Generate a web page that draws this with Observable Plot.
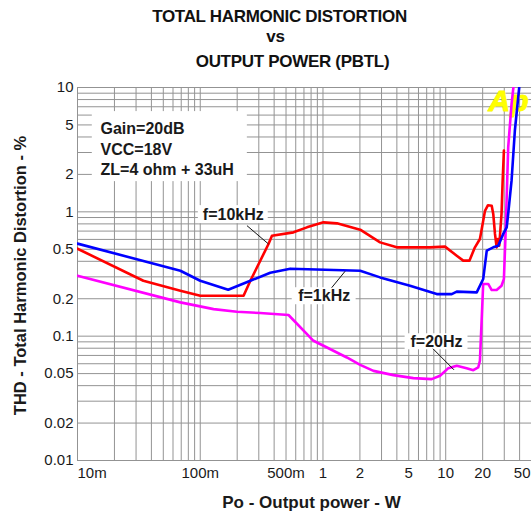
<!DOCTYPE html>
<html><head><meta charset="utf-8">
<script src="https://cdn.jsdelivr.net/npm/d3@7"></script>
<script src="https://cdn.jsdelivr.net/npm/@observablehq/plot@0.6"></script>
<style>
body{margin:0;background:#fff;font-family:Arial,"Liberation Sans",sans-serif;}
#wrap{position:relative;width:531px;height:513px;overflow:hidden;background:#fff;}
#title{position:relative;height:75px;}
.t{position:absolute;left:0;width:531px;text-align:center;font-weight:bold;font-size:17px;line-height:20px;white-space:pre;letter-spacing:-0.3px;color:#111;}
</style></head><body>
<div id="wrap"><div id="title"></div><div id="chart"></div></div>
<script>
// ---- text ----
const titleLines = ["TOTAL HARMONIC DISTORTION", "vs", "OUTPUT POWER (PBTL)"];
const xLabel = "Po - Output power - W";
const yLabel = "THD - Total Harmonic Distortion - %";
const legendLines = ["Gain=20dB", "VCC=18V", "ZL=4 ohm + 33uH"];
const logoText = "Ap";

// ---- ticks ----
const xTicks = [0.01, 0.1, 0.5, 1, 2, 5, 10, 20, 50];
const xTickLabels = ["10m", "100m", "500m", "1", "2", "5", "10", "20", "50"];
const yTicks = [0.01, 0.02, 0.05, 0.1, 0.2, 0.5, 1, 2, 5, 10];
const yTickLabels = ["0.01", "0.02", "0.05", "0.1", "0.2", "0.5", "1", "2", "5", "10"];
const gridMantissas = [1, 2, 3, 4, 5, 6, 7, 8, 9];
const xDecades = [0.01, 0.1, 1, 10];
const yDecades = [0.01, 0.1, 1];

// ---- series: f=10kHz (red) ----
const redP = [0.01, 0.0344, 0.0689, 0.1, 0.2255, 0.256, 0.36, 0.384, 0.575, 0.74, 1.01, 1.3, 2.01, 2.92, 3.99, 7.45, 9.87, 12.3, 13.9, 15.6, 17.3, 19.0, 20.9, 22.1, 23.7, 24.4, 25.2, 26.0, 26.6, 27.3, 28.5, 29.1, 29.8];
const redT = [0.505, 0.279, 0.232, 0.2115, 0.2115, 0.279, 0.551, 0.643, 0.684, 0.75, 0.823, 0.808, 0.719, 0.568, 0.518, 0.518, 0.525, 0.444, 0.405, 0.405, 0.518, 0.605, 1.02, 1.13, 1.12, 0.962, 0.664, 0.518, 0.605, 0.534, 0.962, 1.78, 3.11];
// ---- series: f=1kHz (blue) ----
const blueP = [0.01, 0.0689, 0.1, 0.169, 0.256, 0.372, 0.541, 2.01, 2.92, 5.12, 8.45, 11.2, 12.3, 17.9, 20.2, 21.6, 24.4, 26.8, 29.4, 31.4, 32.3, 34.4, 36.6, 39.7];
const blueT = [0.555, 0.336, 0.279, 0.236, 0.279, 0.324, 0.349, 0.336, 0.297, 0.2545, 0.218, 0.218, 0.228, 0.225, 0.288, 0.487, 0.518, 0.534, 0.664, 0.75, 0.967, 1.78, 4.51, 10];
// ---- series: f=20Hz (magenta) ----
const magP = [0.01, 0.0689, 0.1285, 0.199, 0.308, 0.524, 0.837, 1.01, 1.565, 2.01, 2.58, 3.75, 5.45, 7.69, 8.99, 10.5, 12.3, 14.8, 16.8, 18.4, 19.0, 20.2, 22.2, 23.7, 26.0, 28.5, 29.8, 30.8, 32.3, 34.4, 35.6];
const magT = [0.306, 0.187, 0.165, 0.157, 0.1535, 0.148, 0.0918, 0.0837, 0.0674, 0.0588, 0.0526, 0.0486, 0.046, 0.0451, 0.048, 0.0553, 0.0578, 0.0553, 0.0533, 0.056, 0.0634, 0.263, 0.263, 0.235, 0.235, 0.2545, 0.288, 0.706, 3.31, 7.39, 10];

// ---- annotations (data coordinates) ----
const curveLabels = ["f=10kHz", "f=1kHz", "f=20Hz"];
const labelX = [0.186, 1.023, 8.42];
const labelY = [0.95, 0.2096, 0.0901];
const boxX1 = [0.0965, 0.5615, 4.67];
const boxX2 = [0.358, 1.863, 15.19];
const boxY1 = [0.804, 0.179, 0.0777];
const boxY2 = [1.122, 0.2453, 0.1045];
const leadX1 = [0.2403, 1.177, 7.88];
const leadY1 = [0.774, 0.2453, 0.0792];
const leadX2 = [0.36, 1.516, 11.68];
const leadY2 = [0.551, 0.333, 0.0536];
const legendBox = {x1: 0.0132, x2: 0.242, y1: 1.75, y2: 6.4};

// ---- title ----
const titleDiv = document.getElementById("title");
const titleLeft = [14, 10, 27];
const titleTop = [6.8, 27.1, 52.1];
titleLines.forEach((s, i) => {
  const d = document.createElement("div");
  d.className = "t";
  d.style.left = titleLeft[i] + "px";
  d.style.top = titleTop[i] + "px";
  d.textContent = s;
  titleDiv.appendChild(d);
});

const toRows = (P, T) => P.map((p, i) => ({p, t: T[i]}));
const xGrid = xDecades.flatMap(d => gridMantissas.map(m => +(m * d).toPrecision(3))).filter(v => v < 50);
const yGrid = yDecades.flatMap(d => gridMantissas.map(m => +(m * d).toPrecision(3))).concat([10]);
const labels = curveLabels.map((s, i) => ({s, x: labelX[i], y: labelY[i], x1: boxX1[i], x2: boxX2[i], y1: boxY1[i], y2: boxY2[i], lx1: leadX1[i], ly1: leadY1[i], lx2: leadX2[i], ly2: leadY2[i]}));
const xt = xTicks.map((v, i) => ({v, s: xTickLabels[i]}));
const yt = yTicks.map((v, i) => ({v, s: yTickLabels[i]}));
const gridColor = "#939393";
const ink = "#1a1a1a";

const chart = Plot.plot({
  width: 531,
  height: 438,
  marginLeft: 77,
  marginRight: 0,
  marginTop: 12,
  marginBottom: 53,
  style: {fontFamily: "Arial, 'Liberation Sans', sans-serif", fontSize: "15px", background: "white", color: ink},
  x: {type: "log", domain: [0.01, 50], axis: null},
  y: {type: "log", domain: [0.01, 10], axis: null},
  marks: [
    Plot.ruleX(xGrid, {stroke: gridColor, strokeWidth: 1}),
    Plot.ruleY(yGrid, {stroke: gridColor, strokeWidth: 1}),
    Plot.rect([legendBox], {x1: "x1", x2: "x2", y1: "y1", y2: "y2", fill: "white"}),
    Plot.rect(labels, {x1: "x1", x2: "x2", y1: "y1", y2: "y2", fill: "white"}),
    Plot.text([logoText], {text: d => d, frameAnchor: "top-right", textAnchor: "end", lineAnchor: "top", dx: -3, dy: 2, fontSize: 30, fontWeight: "bold", fontStyle: "italic", fill: "#ffff00", stroke: "#f5f500", strokeWidth: 1}),
    Plot.line(toRows(redP, redT), {x: "p", y: "t", stroke: "#ff0000", strokeWidth: 2.6, clip: true}),
    Plot.line(toRows(magP, magT), {x: "p", y: "t", stroke: "#ff00ff", strokeWidth: 2.6, clip: true}),
    Plot.line(toRows(blueP, blueT), {x: "p", y: "t", stroke: "#0000ff", strokeWidth: 2.6, clip: true}),
    Plot.link(labels, {x1: "lx1", y1: "ly1", x2: "lx2", y2: "ly2", stroke: "#111", strokeWidth: 1}),
    Plot.text(labels, {x: "x", y: "y", text: "s", fontSize: 16, fontWeight: "bold", fill: ink, textAnchor: "middle", lineAnchor: "middle"}),
    Plot.text([legendLines.join("\n")], {text: d => d, frameAnchor: "top-left", textAnchor: "start", lineAnchor: "top", dx: 23, dy: 32.3, lineHeight: 1.28, fontSize: 16, fontWeight: "bold", fill: ink}),
    Plot.text(yt, {y: "v", text: "s", frameAnchor: "left", textAnchor: "end", lineAnchor: "middle", dx: -4, fontSize: 15, fill: ink}),
    Plot.text(xt.slice(0, 1), {x: "v", text: "s", frameAnchor: "bottom", textAnchor: "start", lineAnchor: "top", dy: 7, fontSize: 15, fill: ink}),
    Plot.text(xt.slice(1, -1), {x: "v", text: "s", frameAnchor: "bottom", textAnchor: "middle", lineAnchor: "top", dy: 7, fontSize: 15, fill: ink}),
    Plot.text(xt.slice(-1), {text: "s", frameAnchor: "bottom-right", textAnchor: "end", lineAnchor: "top", dx: -1, dy: 7, fontSize: 15, fill: ink}),
    Plot.text([xLabel], {text: d => d, frameAnchor: "bottom", textAnchor: "middle", lineAnchor: "bottom", dx: 7, dy: 47, fontSize: 17, fontWeight: "bold", fill: ink}),
    Plot.text([yLabel], {text: d => d, frameAnchor: "left", textAnchor: "middle", lineAnchor: "bottom", rotate: -90, dx: -52, dy: 1.5, fontSize: 16.5, fontWeight: "bold", fill: ink})
  ]
});
document.getElementById("chart").appendChild(chart);
</script>
</body></html>
